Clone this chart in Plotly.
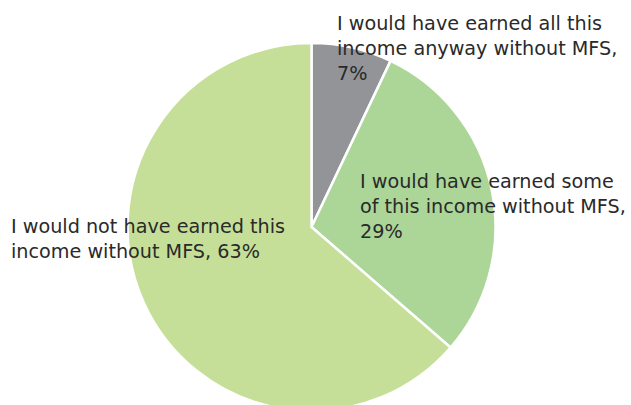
import plotly.graph_objects as go

# Share of income respondents say they would have earned without MFS
labels = [
    "I would have earned all this<br>income anyway without MFS,",
    "I would have earned some<br>of this income without MFS,",
    "I would not have earned this<br>income without MFS,",
]
values = [7, 29, 63]
colors = ["#929497", "#acd598", "#c5df99"]

W, H = 631, 411
cx, cy, r = 311.5, 227, 184

fig = go.Figure(
    go.Pie(
        labels=labels,
        values=values,
        sort=False,
        direction="clockwise",
        rotation=0,
        textinfo="none",
        hoverinfo="label+value",
        marker=dict(colors=colors, line=dict(color="white", width=2.5)),
        domain=dict(
            x=[(cx - r) / W, (cx + r) / W],
            y=[(H - cy - r) / H, (H - cy + r) / H],
        ),
        showlegend=False,
    )
)

# label anchor points (pixels from top-left), one per slice
label_pos = [(335, 10), (358, 168), (9, 213)]
for lab, val, (px, py) in zip(labels, values, label_pos):
    fig.add_annotation(
        text=f"{lab}<br>{val}%" if val != 63 else f"{lab} {val}%",
        x=px / W,
        y=1 - py / H,
        xref="paper",
        yref="paper",
        xanchor="left",
        yanchor="top",
        align="left",
        showarrow=False,
        font=dict(family="DejaVu Sans", size=19.2, color="#2a2a2a"),
    )

fig.update_layout(
    width=W,
    height=H,
    margin=dict(l=0, r=0, t=0, b=0),
    paper_bgcolor="white",
    plot_bgcolor="white",
)

fig.write_html(
    "out.html",
    post_script="document.documentElement.style.overflow='hidden';document.body.style.overflow='hidden';",
)
